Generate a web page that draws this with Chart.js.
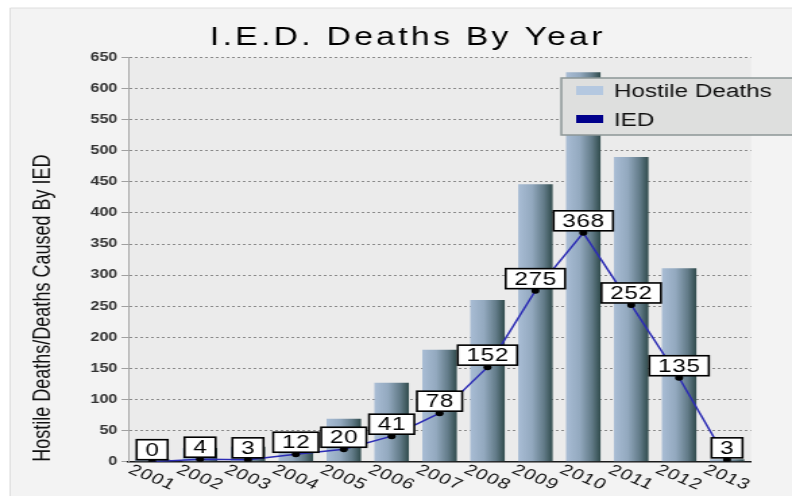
<!DOCTYPE html>
<html>
<head>
<meta charset="utf-8">
<script src="https://cdn.jsdelivr.net/npm/chart.js@4.4.0/dist/chart.umd.min.js"></script>
<style>
  html, body { margin: 0; padding: 0; background: #fff; overflow: hidden; }
  /* the source picture is stretched sideways, so the canvas is too */
  #iedChart { display: block; transform-origin: 0 0; transform: scaleX(1.3492); }
</style>
</head>
<body>
<canvas id="iedChart" width="587" height="496"></canvas>
<script>
// Data
const years = ['2001', '2002', '2003', '2004', '2005', '2006', '2007', '2008', '2009', '2010', '2011', '2012', '2013'];
const hostileDeaths = [4, 22, 24, 27, 69, 127, 180, 260, 446, 626, 490, 311, 4];
const iedDeaths = [0, 4, 3, 12, 20, 41, 78, 152, 275, 368, 252, 135, 3];
const yMax = 650;
const yStep = 50;

const chartTitle = 'I.E.D. Deaths By Year';
const yTitle = 'Hostile Deaths/Deaths Caused By IED';

const hostileColor = '#b4c8e0';
const iedColor = '#00008b';
const FONT = '"Liberation Sans", Arial, sans-serif';

// cylinder-ish shading for each bar, built from the x scale
function barGradient(context) {
    const chart = context.chart;
    const area = chart.chartArea;
    if (context.type !== 'data' || !area) return '#8ea4b8';
    const xScale = chart.scales.x;
    const cx = xScale.getPixelForValue(context.dataIndex);
    const half = (area.right - area.left) / years.length * 0.72 / 2;
    const g = chart.ctx.createLinearGradient(cx - half, 0, cx + half, 0);
    g.addColorStop(0, '#a9bdd5');
    g.addColorStop(0.4, '#93a9bf');
    g.addColorStop(0.75, '#627b88');
    g.addColorStop(1, '#304b4c');
    return g;
}

// Background frame + plot area
const framePlugin = {
    id: 'frame',
    beforeDraw(chart) {
        const { ctx, width, height, chartArea: a } = chart;
        ctx.save();
        ctx.fillStyle = '#ffffff';
        ctx.fillRect(0, 0, width, height);
        ctx.fillStyle = '#f3f3f3';
        ctx.fillRect(7.5, 8, width - 7.5, height - 8);
        ctx.strokeStyle = '#dedede';
        ctx.lineWidth = 1;
        ctx.beginPath();
        ctx.moveTo(7.5, height);
        ctx.lineTo(7.5, 8);
        ctx.lineTo(width, 8);
        ctx.stroke();
        ctx.fillStyle = '#ebebeb';
        ctx.fillRect(a.left, a.top, a.right - a.left, a.bottom - a.top);
        ctx.restore();
    },
};

// White boxes with the IED values
const valueBoxes = {
    id: 'valueBoxes',
    afterDatasetsDraw(chart) {
        const { ctx } = chart;
        const meta = chart.getDatasetMeta(1);
        const values = chart.data.datasets[1].data;
        ctx.save();
        ctx.font = '18px ' + FONT;
        ctx.letterSpacing = '0.5px';
        ctx.textAlign = 'left';
        ctx.textBaseline = 'middle';
        meta.data.forEach((pt, i) => {
            const text = String(values[i]);
            const tw = ctx.measureText(text).width - 0.5;
            const w = tw + 13;
            const h = 20;
            const left = pt.x - w / 2;
            const top = pt.y - 2 - h;
            ctx.fillStyle = '#ffffff';
            ctx.fillRect(left, top, w, h);
            ctx.lineWidth = 1.6;
            ctx.strokeStyle = '#000';
            ctx.strokeRect(left, top, w, h);
            ctx.fillStyle = '#000';
            ctx.fillText(text, left + 6.5, top + h / 2 + 1);
        });
        ctx.restore();
    },
};

// Title, slanted year labels, legend box
const overlayPlugin = {
    id: 'overlay',
    afterDraw(chart) {
        const { ctx, scales: { x } } = chart;

        // title, spread out like the original
        ctx.save();
        ctx.font = '25px ' + FONT;
        ctx.fillStyle = '#000';
        const w0 = ctx.measureText(chartTitle).width;
        const target = 291;
        ctx.letterSpacing = ((target - w0) / (chartTitle.length - 1)) + 'px';
        ctx.textAlign = 'left';
        ctx.textBaseline = 'alphabetic';
        ctx.fillText(chartTitle, 301 - target / 2, 45);
        ctx.restore();

        // year labels
        ctx.save();
        ctx.font = '15px ' + FONT;
        ctx.letterSpacing = '1px';
        ctx.fillStyle = '#111';
        ctx.textAlign = 'center';
        ctx.textBaseline = 'middle';
        x.ticks.forEach((t, i) => {
            ctx.save();
            ctx.translate(x.getPixelForTick(i), x.top + 16);
            ctx.rotate(0.5);
            ctx.fillText(x.getLabelForValue(t.value), 0, 0);
            ctx.restore();
        });
        ctx.restore();

        // legend
        ctx.save();
        ctx.fillStyle = '#dedfde';
        ctx.fillRect(416, 78, 180, 57);
        ctx.strokeStyle = '#8c9696';
        ctx.lineWidth = 1.5;
        ctx.strokeRect(416, 78, 180, 57);
        ctx.font = '18px ' + FONT;
        ctx.textAlign = 'left';
        ctx.textBaseline = 'alphabetic';
        const swatches = [hostileColor, iedColor];
        chart.data.datasets.forEach((ds, i) => {
            const y = 86 + i * 29;
            ctx.fillStyle = swatches[i];
            ctx.fillRect(427, y, 20, i === 0 ? 9 : 8);
            ctx.fillStyle = '#111';
            ctx.fillText(ds.label, 455, y + 11);
        });
        ctx.restore();
    },
};

const ctx = document.getElementById('iedChart').getContext('2d');

const iedChart = new Chart(ctx, {
    type: 'bar',
    data: {
        labels: years,
        datasets: [
            {
                label: 'Hostile Deaths',
                data: hostileDeaths,
                backgroundColor: barGradient,
                borderWidth: 0,
                barPercentage: 0.72,
                categoryPercentage: 1,
                order: 1,
            },
            {
                type: 'line',
                label: 'IED',
                data: iedDeaths,
                borderColor: '#2c2cb4',
                borderWidth: 1.5,
                pointRadius: 3,
                pointBackgroundColor: '#000',
                pointBorderWidth: 0,
                tension: 0,
                order: 0,
            },
        ],
    },
    options: {
        responsive: false,
        animation: false,
        layout: { padding: { left: 0, top: 57.4, right: 30.4, bottom: 0 } },
        scales: {
            x: {
                grid: { display: false },
                ticks: { display: false },
                border: { display: true, color: '#1a1a1a', width: 1.5 },
                afterFit(scale) { scale.height = 34.3; },
            },
            y: {
                min: 0,
                max: yMax,
                ticks: {
                    stepSize: yStep,
                    color: '#333',
                    padding: 3,
                    font: { family: FONT, size: 12, weight: 'bold' },
                },
                grid: {
                    color: '#8a8a8a',
                    lineWidth: 1,
                    tickLength: 5,
                    tickColor: '#a0a0a0',
                },
                border: { color: '#a8a8a8', width: 1, dash: [2, 2] },
                title: {
                    display: true,
                    text: yTitle,
                    align: 'start',
                    color: '#111',
                    font: { family: FONT, size: 18 },
                    padding: { top: 21, bottom: 0 },
                },
                afterFit(scale) { scale.width = 95; },
            },
        },
        plugins: {
            legend: { display: false },
            title: { display: false },
            tooltip: { enabled: false },
        },
    },
    plugins: [framePlugin, valueBoxes, overlayPlugin],
});
</script>
</body>
</html>
